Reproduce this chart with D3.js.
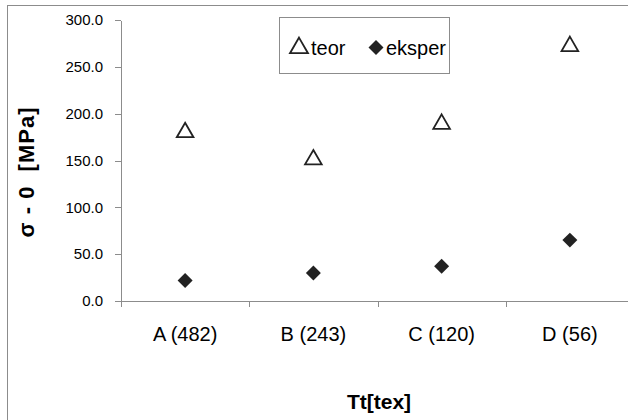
<!DOCTYPE html>
<html lang="en">
<head>
<meta charset="UTF-8">
<title>sigma - 0 per Tt</title>
<script src="https://d3js.org/d3.v7.min.js"></script>
<style>
    body { margin: 0; background: #fff; font-family: "Liberation Sans", Arial, sans-serif; }
    .axis path, .axis line { stroke: #8c8c8c; shape-rendering: crispEdges; }
    .axis text { fill: #000; font-family: "Liberation Sans", Arial, sans-serif; }
</style>
</head>
<body>
<div id="chart"></div>
<script>
// data
const categories = ["A (482)", "B (243)", "C (120)", "D (56)"];
const teor = [180, 151, 189, 272];
const eksper = [22, 30, 37, 65];
const yTicks = [0, 50, 100, 150, 200, 250, 300];

const W = 628, H = 420;
const plot = { left: 121, top: 20, right: 634, bottom: 301 };

const svg = d3.select("#chart").append("svg")
    .attr("width", W).attr("height", H);

// outer chart border (cropped at right and bottom)
svg.append("rect")
    .attr("x", 7.5).attr("y", 5.5)
    .attr("width", W + 10).attr("height", H + 10)
    .attr("fill", "none").attr("stroke", "#8c8c8c");

const x = d3.scaleBand().domain(categories).range([plot.left, plot.right]);
const y = d3.scaleLinear().domain([0, 300]).range([plot.bottom, plot.top]);

// y axis
const yAxis = svg.append("g").attr("class", "axis")
    .attr("transform", `translate(${plot.left},0)`)
    .call(d3.axisLeft(y).tickValues(yTicks).tickFormat(d3.format(".1f"))
        .tickSize(6).tickSizeOuter(0).tickPadding(12));
yAxis.selectAll("text").style("font-size", "15px");

// x axis with ticks between categories
const xAxis = svg.append("g").attr("class", "axis")
    .attr("transform", `translate(0,${plot.bottom})`)
    .call(d3.axisBottom(x).tickSize(0).tickPadding(26));
xAxis.select(".domain").attr("d", `M${plot.left - 6},0.5H${plot.right}`);
xAxis.selectAll("text").style("font-size", "20px");
xAxis.selectAll(".sep")
    .data(categories.slice(1))
    .enter().append("line")
    .attr("class", "sep")
    .attr("x1", d => Math.round(x(d)) + 0.5).attr("x2", d => Math.round(x(d)) + 0.5)
    .attr("y1", 0).attr("y2", 6)
    .attr("stroke", "#8c8c8c");
svg.append("line")
    .attr("x1", plot.left + 0.5).attr("x2", plot.left + 0.5)
    .attr("y1", plot.bottom).attr("y2", plot.bottom + 6)
    .attr("stroke", "#8c8c8c");

const cx = d => x(d) + x.bandwidth() / 2;
const triangle = d3.symbol(d3.symbolTriangle, 120)();
const diamond = d3.symbol(d3.symbolSquare, 112)();

// teor: open triangles
svg.append("g").selectAll("path")
    .data(categories)
    .enter().append("path")
    .attr("d", triangle)
    .attr("transform", (d, i) => `translate(${cx(d)},${y(teor[i])})`)
    .attr("fill", "#fff").attr("stroke", "#222").attr("stroke-width", 1.8);

// eksper: filled diamonds
svg.append("g").selectAll("path")
    .data(categories)
    .enter().append("path")
    .attr("d", diamond)
    .attr("transform", (d, i) => `translate(${cx(d)},${y(eksper[i])}) rotate(45)`)
    .attr("fill", "#222");

// legend
const lg = svg.append("g");
lg.append("rect")
    .attr("x", 279.5).attr("y", 17.5).attr("width", 170).attr("height", 56)
    .attr("fill", "#fff").attr("stroke", "#8c8c8c");
lg.append("path").attr("d", d3.symbol(d3.symbolTriangle, 140)())
    .attr("transform", "translate(299,48)")
    .attr("fill", "#fff").attr("stroke", "#222").attr("stroke-width", 1.8);
lg.append("text").attr("x", 311).attr("y", 55)
    .style("font-size", "20px").text("teor");
lg.append("path").attr("d", diamond)
    .attr("transform", "translate(376,47.5) rotate(45)")
    .attr("fill", "#222");
lg.append("text").attr("x", 386).attr("y", 55)
    .style("font-size", "20px").text("eksper");

// axis titles
svg.append("text")
    .attr("transform", "translate(34,172) rotate(-90)")
    .attr("text-anchor", "middle")
    .style("white-space", "pre")
    .style("font-size", "22px").style("font-weight", "bold")
    .style("letter-spacing", "1px")
    .text("σ - 0  [MPa]");
svg.append("text")
    .attr("x", 379).attr("y", 409)
    .attr("text-anchor", "middle")
    .style("font-size", "21px").style("font-weight", "bold")
    .text("Tt[tex]");
</script>
</body>
</html>
